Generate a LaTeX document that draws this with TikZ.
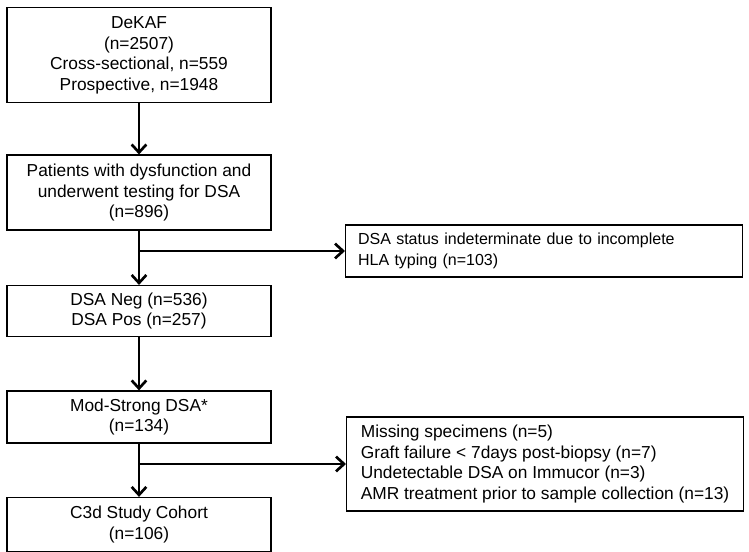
\documentclass[tikz,border=0pt]{standalone}
\usepackage{fontspec}
\setmainfont{Liberation Sans}
\usetikzlibrary{arrows.meta,positioning}

\begin{document}
\begin{tikzpicture}[
    node distance=39pt,
    box/.style={rectangle, draw=black, line width=1.1pt, minimum width=198pt,
                align=center, inner sep=3pt, font=\fontsize{13}{15.5}\selectfont},
    side box/.style={rectangle, draw=black, line width=1.1pt, minimum width=297.5pt,
                align=left, font=\fontsize{13}{15.5}\selectfont},
    arrow/.style={-{Straight Barb[length=6pt,width=11pt,line width=2pt]}, line width=2.2pt}
]
\useasboundingbox (0,0) rectangle (561.75pt,-414pt);

% Top box - cohort
\node[box, minimum height=71.25pt, anchor=north] (dekaf) at (104.25pt,-5.25pt)
    {DeKAF\\(n=2507)\\Cross-sectional, n=559\\Prospective, n=1948};

% Tested patients
\node[box, minimum height=56.25pt, below=38.25pt of dekaf] (tested)
    {Patients with dysfunction and\\underwent testing for DSA\\(n=896)};

% DSA result
\node[box, minimum height=38.25pt, below=40.5pt of tested] (result)
    {DSA Neg (n=536)\\DSA Pos (n=257)};

% Mod-Strong DSA
\node[box, minimum height=39pt, below=39.75pt of result] (strong)
    {Mod-Strong DSA*\\(n=134)};

% Final cohort
\node[box, minimum height=40.5pt, below=39.75pt of strong] (cohort)
    {C3d Study Cohort\\(n=106)};

% Excluded boxes on the right
\node[side box, minimum height=39pt, text width=279pt, inner xsep=8pt, anchor=west,
      font=\fontsize{12}{15.5}\selectfont] (indet) at (258.75pt,-188.25pt)
    {DSA status indeterminate due to incomplete\\HLA typing (n=103)};
\node[side box, minimum height=70.5pt, anchor=west] (excl) at (259.5pt,-348pt)
    {Missing specimens (n=5)\\Graft failure < 7days post-biopsy (n=7)\\Undetectable DSA on Immucor (n=3)\\AMR treatment prior to sample collection (n=13)};

% Main flow arrows
\draw[arrow] (dekaf) -- (tested);
\draw[arrow] (tested) -- (result);
\draw[arrow] (result) -- (strong);
\draw[arrow] (strong) -- (cohort);

% Branches to excluded boxes
\coordinate (split1) at (tested.south |- indet.west);
\coordinate (split2) at (strong.south |- excl.west);
\draw[arrow] (split1) -- (indet.west);
\draw[arrow] (split2) -- (excl.west);

\end{tikzpicture}
\end{document}
